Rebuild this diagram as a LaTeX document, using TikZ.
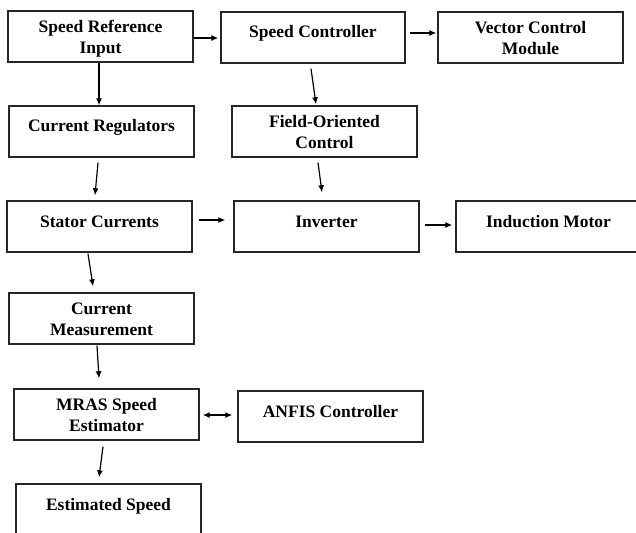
\documentclass[tikz,border=0pt]{standalone}
\usepackage{fontspec}
\setmainfont{Liberation Serif}
\usetikzlibrary{arrows.meta}
\begin{document}
\begin{tikzpicture}[x=1pt,y=-1pt,
  block/.style={draw=black!85,line width=1.4pt,minimum width=185pt,minimum height=51pt,inner sep=0pt},
  label1/.style={inner sep=0pt,font=\fontsize{17.5}{21}\selectfont\bfseries,align=center,yshift=3.7pt},
  label2/.style={inner sep=0pt,font=\fontsize{17.5}{21}\selectfont\bfseries,align=center,yshift=-2.7pt},
  tip/.tip={Latex[length=7pt,width=6pt]},
  flow/.style={line width=1.2pt,-tip},
  bothways/.style={line width=1.2pt,tip-tip}]
\useasboundingbox (0,0) rectangle (636,532);
\clip (0,0) rectangle (636,532);

% block frames
\node[block] (sri)   at (100.5,36.5) {};
\node[block,minimum width=184pt] (sc) at (313,37.5) {};
\node[block] (vcm)   at (530.5,37.5) {};
\node[block] (cr)    at (101.5,131.5) {};
\node[block] (foc)   at (324.5,131.5) {};
\node[block] (stc)   at (99.5,226.5) {};
\node[block] (inv)   at (326.5,226.5) {};
\node[block] (im)    at (548.5,226.5) {};
\node[block] (cm)    at (101.5,318.5) {};
\node[block] (mras)  at (106.5,414.5) {};
\node[block] (anfis) at (330.5,416.5) {};
\node[block] (es)    at (108.5,509.5) {};

% block captions, set near the top of each frame
\node[label2] (sri-t)   at (sri)   {Speed Reference\strut\\Input\strut};
\node[label1] (sc-t)    at (sc)    {Speed Controller\strut};
\node[label2] (vcm-t)   at (vcm)   {Vector Control\strut\\Module\strut};
\node[label1] (cr-t)    at (cr)    {Current Regulators\strut};
\node[label2] (foc-t)   at (foc)   {Field-Oriented\strut\\Control\strut};
\node[label1] (stc-t)   at (stc)   {Stator Currents\strut};
\node[label1] (inv-t)   at (inv)   {Inverter\strut};
\node[label1] (im-t)    at (im)    {Induction Motor\strut};
\node[label2] (cm-t)    at (cm)    {Current\strut\\Measurement\strut};
\node[label2] (mras-t)  at (mras)  {MRAS Speed\strut\\Estimator\strut};
\node[label1] (anfis-t) at (anfis) {ANFIS Controller\strut};
\node[label1] (es-t)    at (es)    {Estimated Speed\strut};

% connectors
\draw[flow] ([yshift=-1.5pt]sri.east) -- ([xshift=-2pt,yshift=-0.5pt]sc.west);
\draw[flow] ([xshift=4pt,yshift=4.5pt]sc.east) -- ([xshift=-1pt,yshift=4.5pt]vcm.west);
\draw[flow] ([xshift=-1.5pt]sri.south) -- ([xshift=-2.5pt]cr.north);
\draw[flow] ([xshift=-2pt,yshift=-5pt]sc.south) -- ([xshift=-8.5pt,yshift=1pt]foc.north);
\draw[flow] ([xshift=-3.5pt,yshift=-5pt]cr.south) -- ([xshift=-4.5pt,yshift=5pt]stc.north);
\draw[flow] ([xshift=-6.5pt,yshift=-5pt]foc.south) -- ([xshift=-4.5pt,yshift=8pt]inv.north);
\draw[flow] ([xshift=6pt,yshift=6.5pt]stc.east) -- ([xshift=-8pt,yshift=6.5pt]inv.west);
\draw[flow] ([xshift=5pt,yshift=1.5pt]inv.east) -- ([xshift=-3pt,yshift=1.5pt]im.west);
\draw[flow] ([xshift=-11.5pt,yshift=-1pt]stc.south) -- ([xshift=-8.5pt,yshift=6pt]cm.north);
\draw[flow] ([xshift=-4.5pt,yshift=-1pt]cm.south) -- ([xshift=-7.5pt,yshift=10pt]mras.north);
\draw[bothways] ([xshift=3pt,yshift=-0.5pt]mras.east) -- ([xshift=-5pt,yshift=1.5pt]anfis.west);
\draw[flow] ([xshift=-3.5pt,yshift=-6pt]mras.south) -- ([xshift=-9.5pt,yshift=6pt]es.north);
\end{tikzpicture}
\end{document}
